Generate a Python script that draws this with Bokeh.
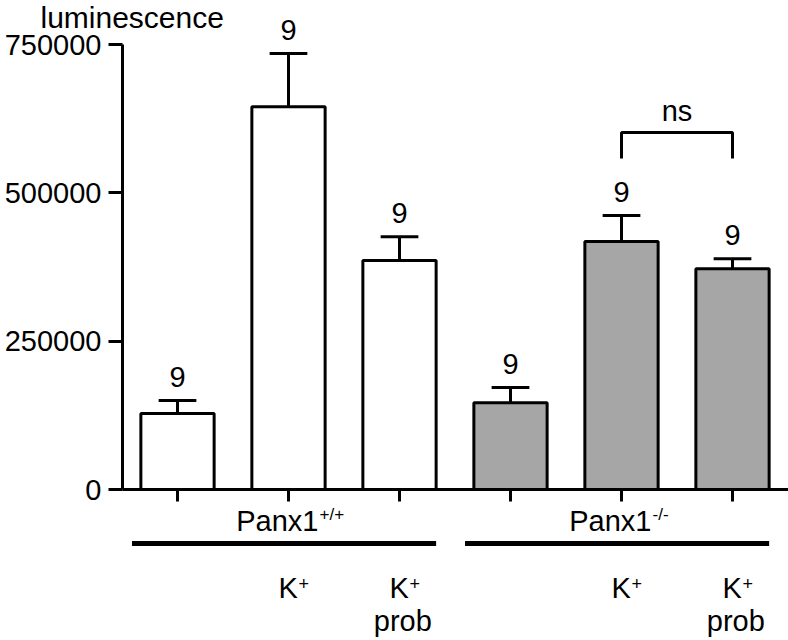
from bokeh.plotting import figure
from bokeh.models import Range1d, FixedTicker, ColumnDataSource
from bokeh.core.properties import value
from bokeh.embed import file_html
from bokeh.resources import INLINE

# ---------------- data ----------------
genotypes = ["Panx1+/+", "Panx1+/+", "Panx1+/+", "Panx1-/-", "Panx1-/-", "Panx1-/-"]
treatments = ["", "K+", "K+ prob", "", "K+", "K+ prob"]
means = [128000, 645000, 386000, 146000, 418000, 372000]
sems = [22000, 90000, 40000, 26000, 44000, 17000]
n_labels = ["9", "9", "9", "9", "9", "9"]
fill_colors = ["white", "white", "white", "#a6a6a6", "#a6a6a6", "#a6a6a6"]
y_ticks = [0, 250000, 500000, 750000]
y_tick_labels = ["0", "250000", "500000", "750000"]
y_title = "luminescence"
ns_pair = [4, 5]
ns_text = "ns"
# ----------------------------------------

FONT = "Liberation Sans"
xs = list(range(len(means)))

W, H = 788, 640
X0_PX, DX_PX = 177.0, 111.0      # pixel column of first category, spacing
AXIS_ROW = 489.0                 # pixel row of y = 0
DPP = 750000 / 445.0             # data units per pixel (y)
BASE_FIX = 0.34                  # baseline correction (fraction of font size)
LABEL_GAP = 14                   # px between error cap and count label


def ximg(col):
    return (col - X0_PX) / DX_PX


def yimg(row):
    return (AXIS_ROW - row) * DPP


def ybase(row, size):
    """data y so that text of font px `size` has its baseline at `row`."""
    return yimg(row - BASE_FIX * size)


p = figure(width=W, height=H, output_backend="svg", toolbar_location=None,
           x_range=Range1d(ximg(0), ximg(W)), y_range=Range1d(yimg(H), yimg(0)),
           min_border=0, min_border_left=0, min_border_right=0,
           min_border_top=0, min_border_bottom=0)
p.outline_line_color = None
p.grid.visible = False
p.background_fill_color = "white"
p.border_fill_color = "white"

x_left = ximg(122)

# y axis (fixed inside frame)
ya = p.yaxis[0]
ya.fixed_location = x_left
ya.ticker = FixedTicker(ticks=y_ticks)
ya.major_label_overrides = {t: l for t, l in zip(y_ticks, y_tick_labels)}
ya.bounds = (0, 750000)
ya.axis_line_width = 3
ya.major_tick_line_width = 3
ya.major_tick_out = 14
ya.major_tick_in = 0
ya.minor_tick_line_color = None
ya.major_label_standoff = 7
ya.major_label_text_font = FONT
ya.major_label_text_font_size = "29px"
ya.major_label_text_color = "black"

# x axis (fixed at y = 0)
xa = p.xaxis[0]
xa.fixed_location = 0
xa.ticker = FixedTicker(ticks=xs)
xa.major_label_overrides = {i: "" for i in xs}
xa.bounds = (x_left, ximg(W))
xa.axis_line_width = 3
xa.major_tick_line_width = 3
xa.major_tick_out = 12
xa.major_tick_in = 0
xa.minor_tick_line_color = None

src = ColumnDataSource(dict(
    x=xs, top=means, fill=fill_colors,
    err=[m + s for m, s in zip(means, sems)],
    cap_l=[x - 0.17 for x in xs], cap_r=[x + 0.17 for x in xs],
    lab_y=[m + s + (LABEL_GAP + BASE_FIX * 29) * DPP for m, s in zip(means, sems)],
    n=n_labels,
))

p.vbar(x="x", top="top", bottom=0, width=0.66, source=src, fill_color="fill",
       line_color="black", line_width=3)
p.segment(x0="x", y0="top", x1="x", y1="err", source=src, line_color="black",
          line_width=3)
p.segment(x0="cap_l", y0="err", x1="cap_r", y1="err", source=src,
          line_color="black", line_width=3)
p.text(x="x", y="lab_y", text="n", source=src, text_align="center",
       text_baseline="alphabetic", text_font=value(FONT),
       text_font_size="29px", text_color="black")


def txt(x, row, s, size, align):
    p.text(x=[x], y=[ybase(row, size)], text=[s], text_align=align,
           text_baseline="alphabetic", text_font=value(FONT),
           text_font_size=f"{size}px", text_color="black")


# ns bracket
b_low, b_high = yimg(158), yimg(132)
p.line(x=[ns_pair[0], ns_pair[0], ns_pair[1], ns_pair[1]],
       y=[b_low, b_high, b_high, b_low], line_color="black", line_width=3)
txt(sum(ns_pair) / 2, 120, ns_text, 29, "center")

# y title
txt(ximg(40), 27, y_title, 30, "left")

# genotype labels and group lines
groups = [(genotypes[0], xs[:3]), (genotypes[3], xs[3:])]
for name, gx in groups:
    base, sup = name[:5], name[5:]
    mid = gx[1] + 0.27
    txt(mid, 530, base, 29, "right")
    txt(mid + 0.01, 520, sup, 17, "left")
    p.segment(x0=[gx[0] - 0.41], x1=[gx[2] + 0.33], y0=[yimg(543)],
              y1=[yimg(543)], line_color="black", line_width=5)

# treatment labels
for x, t in zip(xs, treatments):
    if not t:
        continue
    parts = t.split(" ")
    k = parts[0]
    txt(x + 0.085, 597, k[0], 29, "right")
    txt(x + 0.09, 589, k[1:], 18, "left")
    if len(parts) > 1:
        txt(x + 0.03, 630, parts[1], 29, "center")

open("out.html", "w").write(file_html(p, INLINE))
